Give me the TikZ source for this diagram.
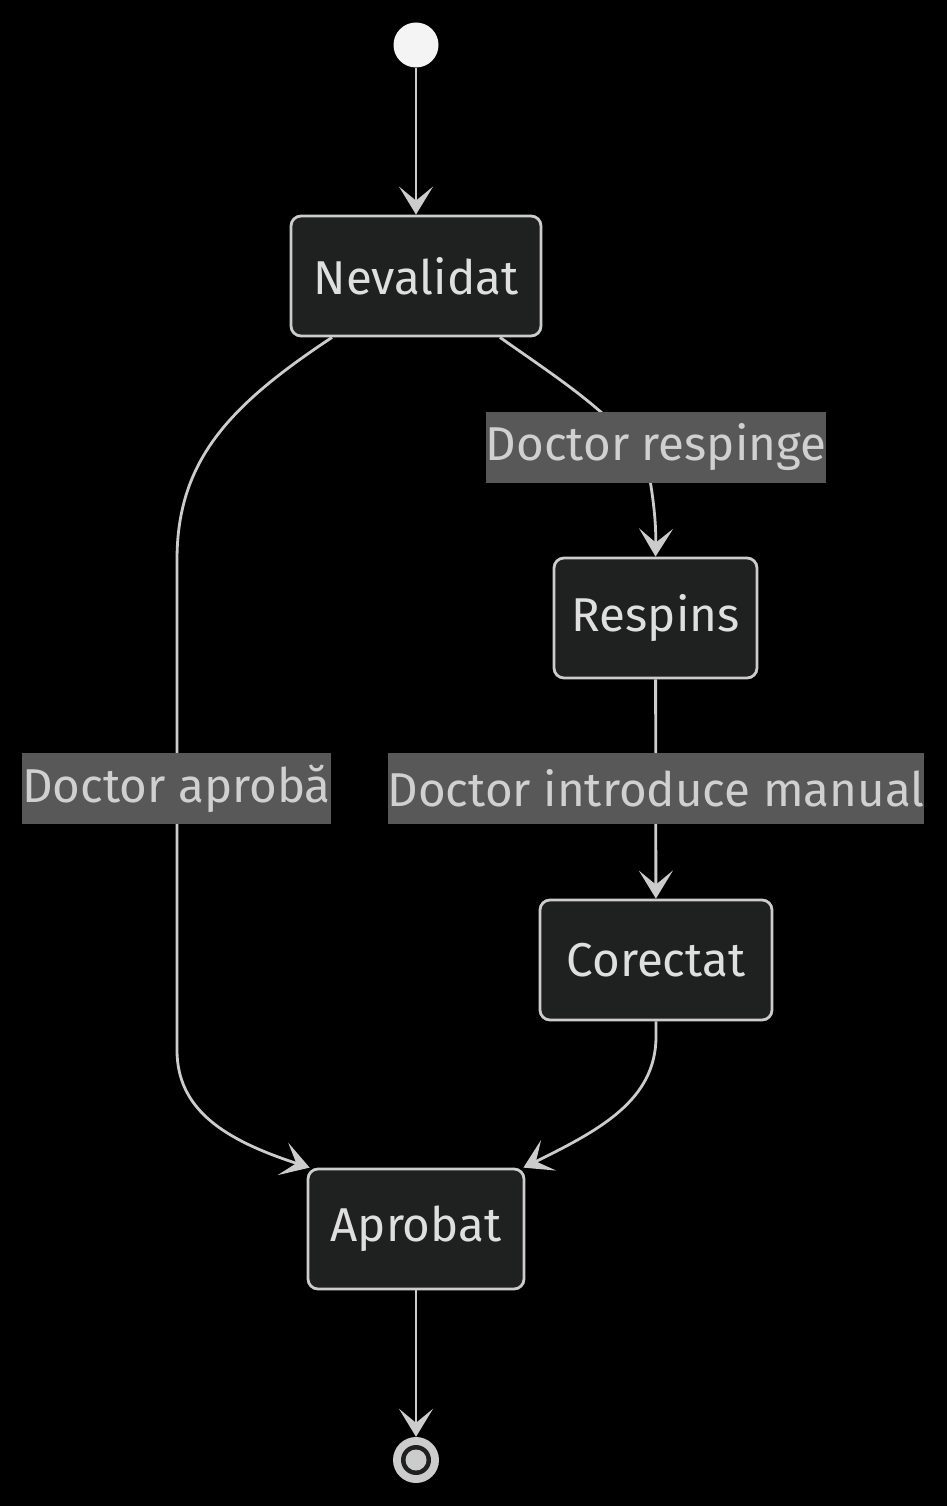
\documentclass[tikz,border=0pt]{standalone}
\usepackage{fontspec}
\setmainfont{Fira Sans}
\usetikzlibrary{arrows.meta,calc}
\definecolor{bg}{HTML}{000000}
\definecolor{boxfill}{HTML}{1F2020}
\definecolor{boxline}{HTML}{CCCCCC}
\definecolor{boxtext}{HTML}{E0DFDF}
\definecolor{lblfill}{HTML}{585858}
\definecolor{lbltext}{HTML}{D0D0D0}
\definecolor{edge}{HTML}{CCCCCC}
\definecolor{startc}{HTML}{F4F4F4}
\tikzset{
  statebox/.style={draw=boxline, line width=2.8pt, fill=boxfill, rounded corners=10pt,
    text=boxtext, font=\fontsize{47.5}{56}\selectfont, minimum height=120pt, inner sep=0pt, anchor=center},
  edgelbl/.style={fill=lblfill, text=lbltext, font=\fontsize{47.5}{56}\selectfont,
    minimum height=71pt, inner sep=0pt, anchor=center},
  conn/.style={draw=edge, line width=2.8pt, -{Stealth[length=28pt,width=34pt,inset=14pt]}},
}
\begin{document}
\begin{tikzpicture}[x=1pt,y=-1pt]
\fill[bg] (0,0) rectangle (947,1506);
\useasboundingbox (0,0) rectangle (947,1506);

\node[circle, fill=startc, minimum size=45pt, inner sep=0pt] (start) at (416,45) {};
\node[statebox, minimum width=250pt] (nev) at (416,276) {Nevalidat};
\node[statebox, minimum width=203pt] (resp) at (655.5,618) {Respins};
\node[statebox, minimum width=232pt] (cor) at (656,960) {Corectat};
\node[statebox, minimum width=216pt] (apr) at (416,1229) {Aprobat};
\node[circle, fill=edge, minimum size=46pt, inner sep=0pt] (end) at (416,1460) {};
\fill[boxfill] (end.center) circle (15pt);
\fill[edge] (end.center) circle (10.5pt);

\draw[conn] (start) -- (nev);
\draw[conn] ($(nev.south)+(-84,0)$) .. controls (230,405) and (177,460) .. (177,560)
   -- (177,1050) .. controls (177,1110) and (225,1140) .. ($(apr.north west)+(3,0)$);
\draw[conn] ($(nev.south)+(84,0)$) .. controls (560,380) and (640,430) .. (650,480)
   .. controls (655,510) and (656,530) .. (resp.north);
\draw[conn] (resp) -- (cor);
\draw[conn] (cor.south) -- ($(cor.south)+(0,15)$) .. controls (656,1100) and (600,1130) .. ($(apr.north east)+(-2,0)$);
\draw[conn] (apr) -- (end);

\node[edgelbl, minimum width=338pt] (l1) at (656,447) {Doctor respinge};
\node[edgelbl, minimum width=305pt] (l2) at (176.5,788.5) {Doctor aprobă};
\node[edgelbl, minimum width=534pt] (l3) at (656,788.5) {Doctor introduce manual};
\end{tikzpicture}
\end{document}
